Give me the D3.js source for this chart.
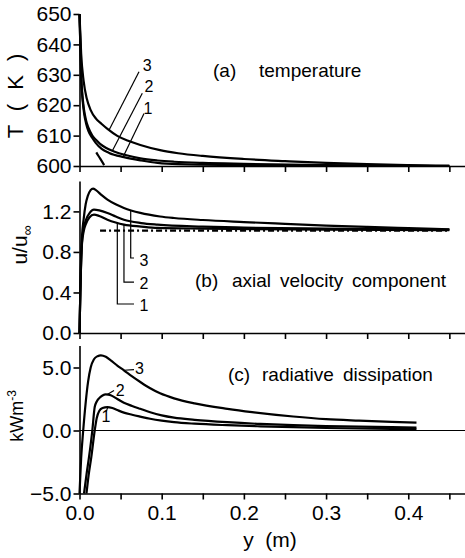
<!DOCTYPE html>
<html>
<head>
<meta charset="utf-8">
<script src="https://cdn.jsdelivr.net/npm/d3@7"></script>
<style>
  html, body { margin: 0; padding: 0; background: #fff; }
  svg { display: block; }
  .axis .tick text { font-family: "Liberation Sans", Arial, sans-serif; font-size: 21px; fill: #000; }
  .axis .domain, .axis .tick line { stroke: #000; stroke-width: 1.6; }
  .curve { fill: none; stroke: #000; stroke-width: 2.2; }
  .leader { fill: none; stroke: #000; stroke-width: 1.2; }
  .num { font-family: "Liberation Sans", Arial, sans-serif; font-size: 16px; fill: #000; }
  .title { font-family: "Liberation Sans", Arial, sans-serif; font-size: 19px; fill: #000; }
  .ylab { font-family: "Liberation Sans", Arial, sans-serif; fill: #000; }
</style>
</head>
<body>
<svg id="chart" width="465" height="558"></svg>
<script>
// ---- distance from the wall y (m) and profiles for cases 1, 2, 3 ----

// (a) temperature, K
const tPos1 = [0, 0.002, 0.004, 0.0055, 0.008, 0.011, 0.0156, 0.0197, 0.027, 0.036, 0.054, 0.075, 0.095, 0.12, 0.2, 0.3, 0.45];
const tVal1 = [650, 629, 621, 617.5, 614, 611.4, 609.2, 607.6, 605.6, 604.3, 602.9, 601.8, 601.0, 600.6, 600.3, 600.1, 600.0];
const tPos2 = [0, 0.002, 0.004, 0.0055, 0.008, 0.011, 0.0156, 0.02, 0.025, 0.032, 0.042, 0.056, 0.074, 0.095, 0.115, 0.15, 0.2, 0.3, 0.45];
const tVal2 = [650, 630, 622, 618.5, 615, 612.5, 610, 608.6, 607.3, 606, 604.8, 603.6, 602.5, 601.8, 601.4, 601.0, 600.7, 600.3, 600.0];
const tPos3 = [0, 0.002, 0.005, 0.009, 0.0136, 0.02, 0.027, 0.034, 0.046, 0.06, 0.074, 0.098, 0.12, 0.15, 0.2, 0.25, 0.3, 0.35, 0.4, 0.45];
const tVal3 = [650, 637, 628, 622, 618.4, 615.6, 613.8, 612.2, 609.9, 608.2, 606.9, 605.2, 604.2, 603.3, 602.3, 601.6, 601.0, 600.6, 600.3, 600.1];
// reference profile (dashed)
const tPosRef = [0, 0.002, 0.004, 0.0055, 0.008, 0.011, 0.014, 0.017, 0.02, 0.025, 0.03];
const tValRef = [650, 629, 621, 617.5, 613.5, 610.5, 608.2, 606.3, 604.7, 602.5, 600.3];

// (b) axial velocity component u/u_inf
const uPos1 = [0, 0.001, 0.002, 0.003, 0.005, 0.008, 0.012, 0.0176, 0.024, 0.034, 0.044, 0.054, 0.075, 0.095, 0.15, 0.3, 0.45];
const uVal1 = [0, 0.4, 0.7, 0.88, 1.0, 1.08, 1.14, 1.168, 1.155, 1.118, 1.09, 1.069, 1.05, 1.037, 1.03, 1.02, 1.015];
const uPos2 = [0, 0.001, 0.002, 0.003, 0.005, 0.008, 0.012, 0.0176, 0.024, 0.034, 0.044, 0.054, 0.075, 0.095, 0.15, 0.2, 0.3, 0.45];
const uVal2 = [0, 0.4, 0.72, 0.9, 1.03, 1.12, 1.18, 1.217, 1.21, 1.185, 1.15, 1.118, 1.085, 1.069, 1.05, 1.04, 1.03, 1.02];
const uPos3 = [0, 0.001, 0.002, 0.003, 0.005, 0.0075, 0.01, 0.0135, 0.0165, 0.02, 0.027, 0.034, 0.044, 0.054, 0.074, 0.098, 0.115, 0.15, 0.2, 0.25, 0.3, 0.35, 0.4, 0.45];
const uVal3 = [0, 0.4, 0.75, 0.95, 1.12, 1.27, 1.35, 1.41, 1.425, 1.41, 1.36, 1.316, 1.27, 1.234, 1.185, 1.15, 1.135, 1.115, 1.095, 1.077, 1.06, 1.047, 1.035, 1.024];
// free-stream level (dash-dot)
const uPosRef = [0.025, 0.45];
const uValRef = [1.01, 1.01];

// (c) radiative dissipation, kW m^-3
const qPos1 = [0.0085, 0.011, 0.0144, 0.0185, 0.021, 0.024, 0.028, 0.034, 0.04, 0.046, 0.054, 0.064, 0.074, 0.086, 0.1, 0.115, 0.14, 0.18, 0.22, 0.26, 0.3, 0.34, 0.38, 0.41];
const qVal1 = [-5, -3.6, -2.1, 0, 1.0, 1.55, 1.78, 1.86, 1.78, 1.62, 1.42, 1.25, 1.1, 0.93, 0.78, 0.66, 0.54, 0.42, 0.33, 0.26, 0.2, 0.16, 0.13, 0.12];
const qPos2 = [0.0055, 0.0085, 0.0116, 0.0156, 0.0185, 0.021, 0.0237, 0.028, 0.032, 0.038, 0.046, 0.054, 0.064, 0.074, 0.086, 0.1, 0.115, 0.14, 0.18, 0.22, 0.26, 0.3, 0.34, 0.38, 0.41];
const qVal2 = [-5, -3.5, -2.1, 0, 1.86, 2.3, 2.55, 2.78, 2.87, 2.8, 2.5, 2.2, 1.95, 1.72, 1.45, 1.2, 1.02, 0.85, 0.66, 0.52, 0.42, 0.35, 0.3, 0.26, 0.24];
const qPos3 = [0, 0.002, 0.0045, 0.0075, 0.0105, 0.0136, 0.0176, 0.022, 0.026, 0.032, 0.038, 0.046, 0.054, 0.064, 0.074, 0.086, 0.098, 0.115, 0.14, 0.18, 0.21, 0.26, 0.3, 0.34, 0.38, 0.41];
const qVal3 = [-5, -2.2, 0, 2.2, 3.9, 5.0, 5.65, 5.9, 5.97, 5.85, 5.57, 5.15, 4.78, 4.3, 3.85, 3.35, 2.95, 2.55, 2.15, 1.72, 1.46, 1.11, 0.9, 0.78, 0.68, 0.63];

// axis ticks
const xTicks = [0, 0.05, 0.1, 0.15, 0.2, 0.25, 0.3, 0.35, 0.4, 0.45];
const tTicks = [600, 610, 620, 630, 640, 650];
const uTicks = [0.0, 0.4, 0.8, 1.2];
const qTicks = [-5, 0, 5];
const caseLabels = ["1", "2", "3"];

// ---- drawing ----
const svg = d3.select("#chart");

const x = d3.scaleLinear().domain([0, 0.47]).range([79.5, 465.8]);
const yT = d3.scaleLinear().domain([600, 650]).range([166, 14]);
const yU = d3.scaleLinear().domain([0, 1.5]).range([333, 181]);
const yQ = d3.scaleLinear().domain([-5, 6.75]).range([493.5, 345.45]);

function zip(p, v) { return p.map((d, i) => [d, v[i]]); }
function valueAt(p, v, at) { return d3.scaleLinear().domain(p).range(v).clamp(true)(at); }

function drawPanel(yScale, yTickVals, yFmt, showXLabels) {
  svg.append("g").attr("class", "axis")
    .attr("transform", `translate(0,${yScale.range()[0]})`)
    .call(d3.axisBottom(x).tickValues(xTicks).tickSize(6).tickSizeOuter(0).tickPadding(6)
      .tickFormat((d, i) => showXLabels && i % 2 === 0 ? d3.format(".1f")(d) : ""));
  svg.append("g").attr("class", "axis")
    .attr("transform", `translate(${x(0)},0)`)
    .call(d3.axisLeft(yScale).tickValues(yTickVals).tickSize(6).tickSizeOuter(0).tickPadding(2)
      .tickFormat(yFmt));
}

function drawCurve(yScale, p, v) {
  const line = d3.line().x(d => x(d[0])).y(d => yScale(d[1])).curve(d3.curveMonotoneX);
  return svg.append("path").attr("class", "curve").attr("d", line(zip(p, v)));
}

function seg(yScale, pts) {
  svg.append("path").attr("class", "leader")
    .attr("d", d3.line().x(d => x(d[0])).y(d => yScale(d[1]))(pts));
}

function num(yScale, xv, yv, txt, anchor) {
  svg.append("text").attr("class", "num")
    .attr("x", x(xv)).attr("y", yScale(yv))
    .attr("text-anchor", anchor || "middle").attr("dominant-baseline", "central")
    .text(txt);
}

// panel (a)
drawPanel(yT, tTicks, d3.format("d"), false);
drawCurve(yT, tPos1, tVal1);
drawCurve(yT, tPos2, tVal2);
drawCurve(yT, tPos3, tVal3);
// dashed profile: the dash pattern is laid from the far end so that its last dash meets the axis
const refPath = drawCurve(yT, tPosRef, tValRef).attr("stroke-width", 1.8);
const refLen = refPath.node().getTotalLength();
refPath.attr("stroke-dasharray", `0,${refLen - 15},15`);
seg(yT, [[0.0724, 631.0], [0.036, valueAt(tPos3, tVal3, 0.036)]]);
seg(yT, [[0.0764, 623.9], [0.040, valueAt(tPos2, tVal2, 0.040)]]);
seg(yT, [[0.0785, 617.3], [0.053, valueAt(tPos1, tVal1, 0.053)]]);
num(yT, 0.0825, 633, caseLabels[2]);
num(yT, 0.0845, 626, caseLabels[1]);
num(yT, 0.0833, 618.8, caseLabels[0]);

// panel (b)
drawPanel(yU, uTicks, d3.format(".1f"), false);
drawCurve(yU, uPosRef, uValRef).attr("stroke-dasharray", "6,3,2,3").attr("stroke-width", 1.8);
drawCurve(yU, uPos1, uVal1);
drawCurve(yU, uPos2, uVal2);
drawCurve(yU, uPos3, uVal3);
seg(yU, [[0.0623, valueAt(uPos3, uVal3, 0.0623)], [0.0623, 0.74], [0.0663, 0.74]]);
seg(yU, [[0.0541, valueAt(uPos1, uVal1, 0.0541)], [0.0541, 0.503], [0.0663, 0.503]]);
seg(yU, [[0.0460, valueAt(uPos1, uVal1, 0.046)], [0.0460, 0.286], [0.0663, 0.286]]);
num(yU, 0.0785, 0.711, caseLabels[2]);
num(yU, 0.0785, 0.484, caseLabels[1]);
num(yU, 0.0785, 0.267, caseLabels[0]);

// panel (c)
drawPanel(yQ, qTicks, d3.format(".1f"), true);
svg.append("line").attr("class", "leader").attr("stroke-width", 1.6)
  .attr("x1", x(0)).attr("x2", x(0.47)).attr("y1", yQ(0)).attr("y2", yQ(0));
drawCurve(yQ, qPos1, qVal1);
drawCurve(yQ, qPos2, qVal2);
drawCurve(yQ, qPos3, qVal3);
seg(yQ, [[0.054, valueAt(qPos3, qVal3, 0.054)], [0.0663, 4.83]]);
seg(yQ, [[0.0338, valueAt(qPos2, qVal2, 0.0338)], [0.042, 3.18]]);
seg(yQ, [[0.0345, valueAt(qPos1, qVal1, 0.0345)], [0.0325, 1.5]]);
num(yQ, 0.0675, 4.94, caseLabels[2], "start");
num(yQ, 0.0441, 3.18, caseLabels[1], "start");
num(yQ, 0.0322, 1.11, caseLabels[0]);

// panel titles
function title(yBase, parts) {
  const t = svg.append("text").attr("class", "title").attr("y", yBase);
  parts.forEach(([px, s]) => t.append("tspan").attr("x", px).text(s));
}
title(77, [[213, "(a)"], [259, "temperature"]]);
title(287, [[195, "(b)"], [232, "axial"], [280, "velocity"], [352, "component"]]);
title(381, [[228, "(c)"], [262, "radiative"], [343, "dissipation"]]);

// axis titles
svg.append("text").attr("class", "ylab").attr("font-size", 22)
  .attr("letter-spacing", 4).attr("text-anchor", "middle")
  .attr("transform", "translate(22.5,94) rotate(-90)")
  .text("T ( K )");

const uLab = svg.append("text").attr("class", "ylab").attr("font-size", 21)
  .attr("text-anchor", "middle")
  .attr("transform", "translate(27,245) rotate(-90)");
uLab.append("tspan").text("u/u");
uLab.append("tspan").attr("font-size", 14).attr("dy", 5).text("∞");

const qLab = svg.append("text").attr("class", "ylab").attr("font-size", 18)
  .attr("text-anchor", "middle")
  .attr("transform", "translate(23,416) rotate(-90)");
qLab.append("tspan").text("kWm");
qLab.append("tspan").attr("font-size", 12).attr("dy", -7).text("-3");

svg.append("text").attr("class", "ylab").attr("font-size", 21)
  .attr("text-anchor", "middle").attr("x", 270).attr("y", 547)
  .attr("xml:space", "preserve")
  .text("y  (m)");
</script>
</body>
</html>
